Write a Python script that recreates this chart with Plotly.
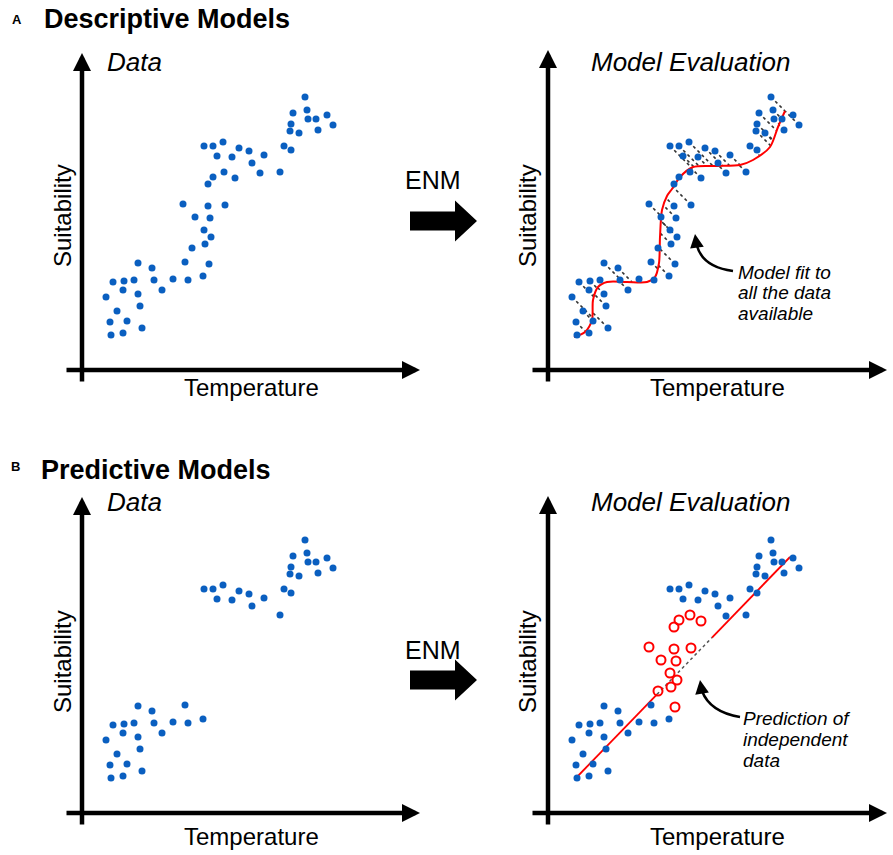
import numpy as np
import plotly.graph_objects as go

W, H = 893, 855
FONT = "Liberation Sans, Arial, sans-serif"
BLUE = "#0a5fc0"
RED = "#ff0000"

# observations drawn in every panel (temperature, suitability; arbitrary units)
base_temp = [223, 211, 225, 245, 226, 234, 251, 209, 208, 217, 236,
             122, 131, 141, 135, 157, 150, 167, 182, 170, 202, 209, 198,
             103, 121,
             56, 70, 31, 42, 52, 72, 91, 106, 41, 80, 24, 56, 35, 58, 28, 45, 29, 41, 60]
base_suit = [273, 257, 260, 255, 251, 251, 245, 246, 239, 237, 240,
             224, 224, 228, 214, 222, 213, 219, 215, 207, 224, 220, 198,
             108, 94,
             107, 102, 88, 89, 90, 90, 91, 90, 80, 80, 73, 76, 59, 64, 48, 49, 35, 37, 42]

# observations held out in the predictive case (independent data)
indep_temp = [142, 153, 131, 126, 101, 126, 143, 113, 128, 122, 129, 123, 110, 127]
indep_suit = [198, 192, 193, 186, 166, 164, 165, 153, 152, 140, 133, 126, 122, 106]

# one record missing from the predictive "Data" panel
extra_temp = [178]
extra_suit = [197]

# descriptive model fitted to all the data
curve_temp = [26, 37, 44, 45, 50, 59, 79, 99, 107, 111, 112, 114, 119, 124, 132, 145, 169, 192, 205, 222, 230, 237]
curve_suit = [33, 38, 50, 70, 83, 88, 88, 88, 93, 107, 133, 160, 174, 181, 193, 203, 204, 205, 210, 223, 243, 259]

# predictive model line; the stretch over the independent data is grey
line_temp = [27, 242]
line_suit = [34, 256]
gap_temp = [109, 164]

# panel boxes in pixels: left, right (arrow tip), bottom (x-axis), top (arrow tip)
panels = {
    "A_data": ("x", "y", 82, 420, 370, 53),
    "A_eval": ("x2", "y2", 548, 887, 370, 50),
    "B_data": ("x3", "y3", 82, 420, 813, 497),
    "B_eval": ("x4", "y4", 548, 887, 813, 496),
}


def px(x):
    return x / W


def py(y):
    return 1 - y / H


fig = go.Figure()
layout_axes = {}
annotations = []
shapes = []

for name, (xa, ya, x0, x1, y0, y1) in panels.items():
    xkey = "xaxis" + xa[1:]
    ykey = "yaxis" + ya[1:]
    layout_axes[xkey] = dict(domain=[px(x0), px(x1)], range=[0, x1 - x0],
                             visible=False, anchor=ya, fixedrange=True)
    layout_axes[ykey] = dict(domain=[py(y0), py(y1)], range=[0, y0 - y1],
                             visible=False, anchor=xa, fixedrange=True)
    # axis arrows
    annotations.append(dict(x=x1 - x0, y=0, ax=-17, ay=0, xref=xa, yref=ya,
                            axref=xa, ayref=ya, text="", showarrow=True,
                            arrowhead=2, arrowwidth=4.5, arrowsize=0.8, arrowcolor="black"))
    annotations.append(dict(x=0, y=y0 - y1, ax=0, ay=-13, xref=xa, yref=ya,
                            axref=xa, ayref=ya, text="", showarrow=True,
                            arrowhead=2, arrowwidth=4.5, arrowsize=0.8, arrowcolor="black"))

dot = dict(size=7, color=BLUE)

# A - Data
fig.add_trace(go.Scatter(x=base_temp + indep_temp + extra_temp,
                         y=base_suit + indep_suit + extra_suit,
                         mode="markers", marker=dot, xaxis="x", yaxis="y"))

# A - Model evaluation: residuals along the diagonal to the fitted curve
all_t = base_temp + indep_temp + extra_temp
all_s = base_suit + indep_suit + extra_suit
res_x, res_y = [], []
for t0, s0 in zip(all_t, all_s):
    lo, hi = -150.0, 150.0
    for _ in range(60):
        mid = (lo + hi) / 2
        g = np.interp(t0 + mid, curve_temp, curve_suit) - (s0 - mid)
        if g > 0:
            hi = mid
        else:
            lo = mid
    u = (lo + hi) / 2
    res_x += [t0, t0 + u, None]
    res_y += [s0, s0 - u, None]

fig.add_trace(go.Scatter(x=res_x, y=res_y, mode="lines",
                         line=dict(color="#333333", width=1.6, dash="dot"),
                         xaxis="x2", yaxis="y2"))
fig.add_trace(go.Scatter(x=curve_temp, y=curve_suit, mode="lines",
                         line=dict(color=RED, width=2, shape="spline", smoothing=0.8),
                         xaxis="x2", yaxis="y2"))
fig.add_trace(go.Scatter(x=all_t, y=all_s, mode="markers", marker=dot,
                         xaxis="x2", yaxis="y2"))

# B - Data (independent records withheld)
fig.add_trace(go.Scatter(x=base_temp, y=base_suit, mode="markers", marker=dot,
                         xaxis="x3", yaxis="y3"))

# B - Model evaluation
gap_suit = list(np.interp(gap_temp, line_temp, line_suit))
fig.add_trace(go.Scatter(x=[line_temp[0], gap_temp[0]], y=[line_suit[0], gap_suit[0]],
                         mode="lines", line=dict(color=RED, width=1.8),
                         xaxis="x4", yaxis="y4"))
fig.add_trace(go.Scatter(x=[gap_temp[1], line_temp[1]], y=[gap_suit[1], line_suit[1]],
                         mode="lines", line=dict(color=RED, width=1.8),
                         xaxis="x4", yaxis="y4"))
fig.add_trace(go.Scatter(x=gap_temp, y=gap_suit, mode="lines",
                         line=dict(color="#555555", width=1.5, dash="dot"),
                         xaxis="x4", yaxis="y4"))
fig.add_trace(go.Scatter(x=base_temp + extra_temp, y=base_suit + extra_suit,
                         mode="markers", marker=dot, xaxis="x4", yaxis="y4"))
fig.add_trace(go.Scatter(x=indep_temp, y=indep_suit, mode="markers",
                         marker=dict(symbol="circle-open", size=9, color=RED,
                                     line=dict(width=2, color=RED)),
                         xaxis="x4", yaxis="y4"))

# curved pointer arrows
shapes.append(dict(type="path", xref="x2", yref="y2",
                   path="M 185,99 Q 155,103 149,124",
                   line=dict(color="black", width=2.5)))
annotations.append(dict(x=147, y=136, ax=149, ay=122, xref="x2", yref="y2",
                        axref="x2", ayref="y2", text="", showarrow=True,
                        arrowhead=2, arrowwidth=2.5, arrowsize=1.1, arrowcolor="black"))
shapes.append(dict(type="path", xref="x4", yref="y4",
                   path="M 192,96 Q 162,101 154,122",
                   line=dict(color="black", width=2.5)))
annotations.append(dict(x=152, y=133, ax=154, ay=120, xref="x4", yref="y4",
                        axref="x4", ayref="y4", text="", showarrow=True,
                        arrowhead=2, arrowwidth=2.5, arrowsize=1.1, arrowcolor="black"))

# ENM block arrows
for cy in (221, 680):
    pts = [(410, cy - 9.5), (455, cy - 9.5), (455, cy - 20.5), (477, cy),
           (455, cy + 20.5), (455, cy + 9.5), (410, cy + 9.5)]
    path = "M " + " L ".join(f"{px(a):.5f},{py(b):.5f}" for a, b in pts) + " Z"
    shapes.append(dict(type="path", xref="paper", yref="paper", path=path,
                       fillcolor="black", line=dict(width=0)))


def text(s, x, y, size, xanchor="center", angle=0):
    annotations.append(dict(text=s, x=px(x), y=py(y), xref="paper", yref="paper",
                            showarrow=False, xanchor=xanchor, yanchor="middle",
                            textangle=angle, font=dict(family=FONT, size=size, color="black")))


text("<b>A</b>", 17, 19, 13)
text("<b>Descriptive Models</b>", 42, 19, 27, "left")
text("<b>B</b>", 15, 467, 13)
text("<b>Predictive Models</b>", 39, 470, 27, "left")

for top, bottom in ((62, 388), (502, 836)):
    text("<i>Data</i>", 134, top, 26)
    text("<i>Model Evaluation</i>", 690, top, 26)
    text("Temperature", 252, bottom, 24)
    text("Temperature", 717, bottom, 24)

for cy in (216, 662):
    text("Suitability", 62, cy, 24, angle=-90)
    text("Suitability", 527, cy, 24, angle=-90)

text("ENM", 433, 180, 25)
text("ENM", 433, 650, 25)

for line, y in zip(["Model fit to", "all the data", "available"], [272, 292, 313]):
    text(f"<i>{line}</i>", 736, y, 19, "left")
for line, y in zip(["Prediction of", "independent", "data"], [718, 739, 760]):
    text(f"<i>{line}</i>", 741, y, 19, "left")

fig.update_layout(
    width=W, height=H,
    margin=dict(l=0, r=0, t=0, b=0),
    paper_bgcolor="white", plot_bgcolor="white",
    showlegend=False,
    font=dict(family=FONT),
    annotations=annotations,
    shapes=shapes,
    **layout_axes,
)

# the page's default body margin would push the figure off the window
fig.write_html("out.html", config={"displayModeBar": False},
               post_script="document.body.style.margin='0px';")
